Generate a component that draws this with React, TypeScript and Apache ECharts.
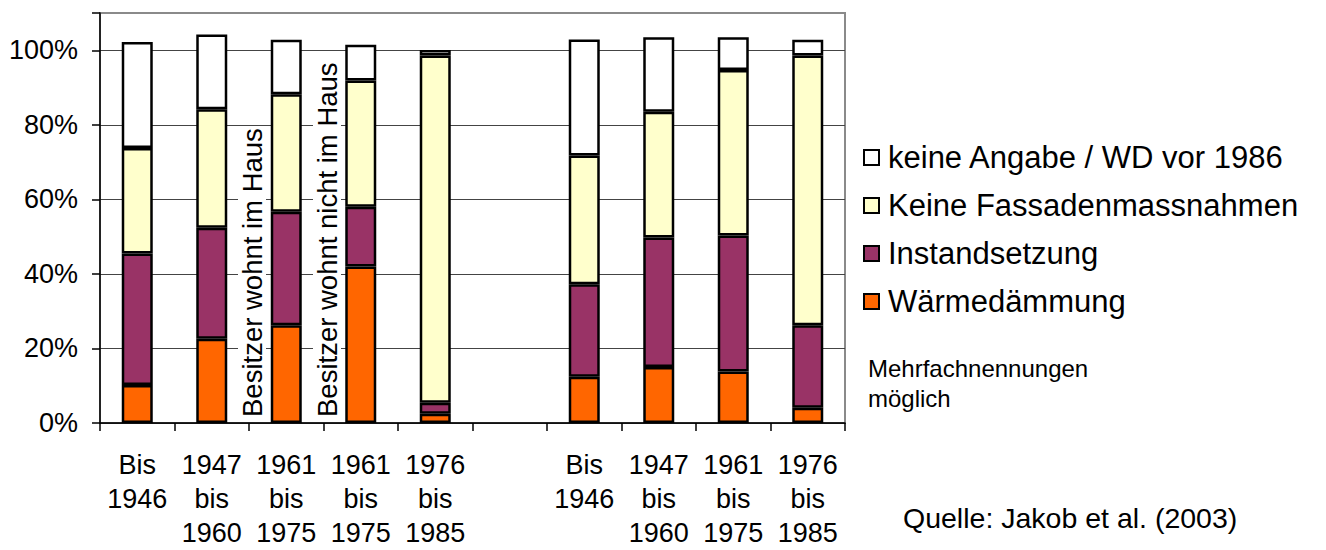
import React, { useEffect, useRef } from "react";
import * as echarts from "echarts";

const categories = [
  "Bis\n1946",
  "1947\nbis\n1960",
  "1961\nbis\n1975",
  "1961\nbis\n1975",
  "1976\nbis\n1985",
  "",
  "Bis\n1946",
  "1947\nbis\n1960",
  "1961\nbis\n1975",
  "1976\nbis\n1985",
];

const waermedaemmung = [10.2, 22.6, 26.2, 42.0, 2.5, null, 12.4, 15.0, 13.8, 4.1];
const instandsetzung = [35.3, 29.8, 30.5, 16.0, 2.9, null, 24.8, 34.8, 36.5, 22.1];
const keineFassaden = [28.3, 31.8, 31.5, 33.9, 93.2, null, 34.6, 33.7, 44.4, 72.4];
const keineAngabe = [28.4, 20.0, 14.6, 9.6, 1.5, null, 31.1, 20.0, 8.8, 4.2];

const seriesNames = [
  "Wärmedämmung",
  "Instandsetzung",
  "Keine Fassadenmassnahmen",
  "keine Angabe / WD vor 1986",
];
const seriesColors = ["#FF6600", "#993366", "#FFFFCC", "#FFFFFF"];

const FONT = "Liberation Sans, Arial, sans-serif";

export default function App() {
  const ref = useRef<HTMLDivElement>(null);
  useEffect(() => {
    if (!ref.current) return;
    const chart = echarts.init(ref.current, undefined, { renderer: "svg" });
    const values = [waermedaemmung, instandsetzung, keineFassaden, keineAngabe];
    chart.setOption({
      animation: false,
      textStyle: { fontFamily: FONT },
      grid: {
        left: 100,
        right: 481,
        top: 13,
        bottom: 127,
        containLabel: false,
        outerBoundsMode: "none",
        show: true,
        borderColor: "#8a8a8a",
        borderWidth: 2,
        backgroundColor: "transparent",
      },
      legend: {
        orient: "vertical",
        left: 858,
        top: 137,
        itemWidth: 15,
        itemHeight: 15,
        itemGap: 17,
        icon: "rect",
        data: [...seriesNames].reverse(),
        textStyle: {
          fontFamily: FONT,
          fontSize: 31,
          lineHeight: 31,
          color: "#000",
          padding: [0, 0, 0, 4],
        },
        selectedMode: false,
      },
      xAxis: {
        type: "category",
        data: categories,
        boundaryGap: true,
        axisLine: { lineStyle: { color: "#000", width: 1.5 } },
        axisTick: { show: true, length: 8, lineStyle: { color: "#000", width: 1.5 } },
        axisLabel: {
          interval: 0,
          margin: 25,
          fontSize: 27,
          lineHeight: 34,
          color: "#000",
          fontFamily: FONT,
          align: "center",
        },
        splitLine: { show: false },
      },
      yAxis: {
        type: "value",
        min: 0,
        max: 110,
        interval: 20,
        axisLine: { show: true, lineStyle: { color: "#000", width: 1.5 } },
        axisTick: {
          show: true,
          length: 8,
          lineStyle: { color: "#000", width: 1.5 },
        },
        axisLabel: {
          margin: 22,
          fontSize: 27,
          color: "#000",
          fontFamily: FONT,
          formatter: (v: number) => (v > 100 ? "" : v + "%"),
        },
        splitLine: { show: true, showMaxLine: false, lineStyle: { color: "#444", width: 1 } },
      },
      series: seriesNames.map((name, i) => ({
        name,
        type: "bar",
        stack: "total",
        barWidth: 31,
        data: values[i],
        itemStyle: { color: seriesColors[i], borderColor: "#000", borderWidth: 2.5 },
        z: 3,
      })),
      graphic: [
        {
          type: "text",
          x: 252,
          y: 418,
          rotation: Math.PI / 2,
          z: 10,
          style: {
            text: "Besitzer wohnt im Haus",
            fontSize: 27.5,
            fontFamily: FONT,
            fill: "#000",
            align: "left",
            verticalAlign: "middle",
            backgroundColor: "#fff",
            padding: [0, 1],
          },
        },
        {
          type: "text",
          x: 327,
          y: 418,
          rotation: Math.PI / 2,
          z: 10,
          style: {
            text: "Besitzer wohnt nicht im Haus",
            fontSize: 27.5,
            fontFamily: FONT,
            fill: "#000",
            align: "left",
            verticalAlign: "middle",
            backgroundColor: "#fff",
            padding: [0, 1],
          },
        },
        {
          type: "text",
          left: 868,
          top: 353,
          style: {
            text: "Mehrfachnennungen\nmöglich",
            fontSize: 24,
            lineHeight: 30,
            fontFamily: FONT,
            fill: "#000",
          },
        },
        {
          type: "text",
          left: 903,
          top: 503,
          style: {
            text: "Quelle: Jakob et al. (2003)",
            fontSize: 28.5,
            fontFamily: FONT,
            fill: "#000",
          },
        },
      ],
    });
    return () => chart.dispose();
  }, []);
  return (
    <div
      ref={ref}
      style={{ position: "fixed", left: 0, top: 0, width: 1326, height: 550, background: "#fff" }}
    />
  );
}
